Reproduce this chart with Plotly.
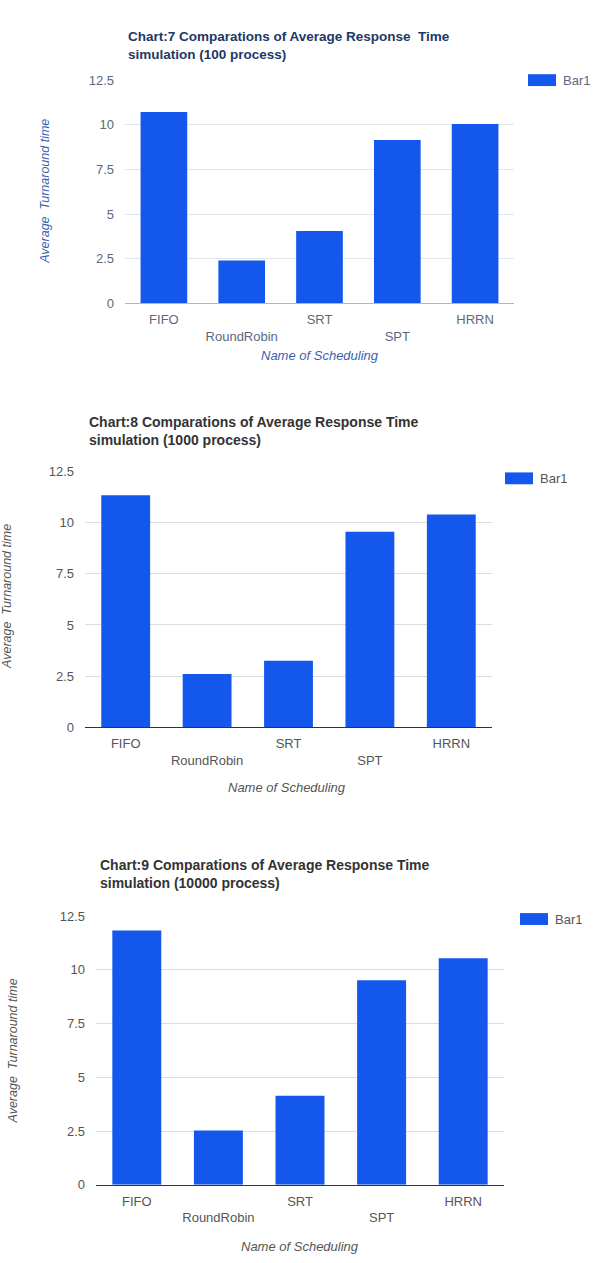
import plotly.graph_objects as go

W, H = 604, 1263

categories = ["FIFO", "RoundRobin", "SRT", "SPT", "HRRN"]
series_name = "Bar1"
chart7_values = [10.72, 2.4, 4.05, 9.15, 10.04]
chart8_values = [11.34, 2.61, 3.25, 9.55, 10.39]
chart9_values = [11.83, 2.53, 4.14, 9.51, 10.54]
y_ticks = [0, 2.5, 5, 7.5, 10, 12.5]
y_tick_labels = ["0", "2.5", "5", "7.5", "10", "12.5"]
titles = [
    "Chart:7 Comparations of Average Response  Time<br>simulation (100 process)",
    "Chart:8 Comparations of Average Response Time<br>simulation (1000 process)",
    "Chart:9 Comparations of Average Response Time<br>simulation (10000 process)",
]
x_title = "Name of Scheduling"
y_title = "Average  Turnaround time"

BAR = "#1457ec"


def px(x):
    return x / W


def py(y):
    return 1 - y / H


# layout geometry per chart (pixels): plot left, right, top(12.5), bottom(0)
charts = [
    dict(vals=chart7_values, l=125, r=514, t=74, b=300,
         title_xy=(126, 39), ytitle_xy=(45, 187), xtitle_xy=(320, 353),
         leg=(528, 74), title_col="#1d3866", tick_col="#5b6880",
         axis_col="#3b5fae", base_col="#a9b7cf", grid_col="#e1e6ee", tsize=13.5),
    dict(vals=chart8_values, l=85, r=492, t=470, b=729,
         title_xy=(87, 429), ytitle_xy=(7, 597), xtitle_xy=(287, 790),
         leg=(505, 477), title_col="#333333", tick_col="#555555",
         axis_col="#555555", base_col="#333333", grid_col="#dddddd", tsize=14),
    dict(vals=chart9_values, l=96, r=504, t=920, b=1192,
         title_xy=(98, 877), ytitle_xy=(13, 1057), xtitle_xy=(300, 1254),
         leg=(520, 923), title_col="#333333", tick_col="#555555",
         axis_col="#555555", base_col="#333333", grid_col="#dddddd", tsize=14),
]

fig = go.Figure()
annotations = []
shapes = []
ticktext = [c if i % 2 == 0 else "<br>" + c for i, c in enumerate(categories)]

for i, ch in enumerate(charts):
    n = "" if i == 0 else str(i + 1)
    fig.add_trace(go.Bar(
        x=categories, y=ch["vals"], name=series_name,
        marker=dict(color=BAR, line=dict(width=0)),
        xaxis="x" + n, yaxis="y" + n, showlegend=False,
    ))
    fig.layout["xaxis" + n] = dict(
        domain=[px(ch["l"]), px(ch["r"])], anchor="y" + n,
        tickmode="array", tickvals=categories, ticktext=ticktext,
        tickfont=dict(family="Arial, Liberation Sans", size=13, color=ch["tick_col"]),
        showline=True, linecolor=ch["base_col"], linewidth=1.2,
        showgrid=False, ticks="", fixedrange=True, ticklabelstandoff=4,
    )
    fig.layout["yaxis" + n] = dict(
        domain=[py(ch["b"]), py(ch["t"])], anchor="x" + n,
        range=[0, 12.5], tickmode="array", tickvals=y_ticks, ticktext=y_tick_labels,
        tickfont=dict(family="Arial, Liberation Sans", size=13, color=ch["tick_col"]),
        showgrid=True, gridcolor=ch["grid_col"], gridwidth=1,
        zeroline=False, showline=False, ticks="", ticklabelstandoff=10,
    )
    # chart title
    annotations.append(dict(
        x=px(ch["title_xy"][0]), y=py(ch["title_xy"][1]), xref="paper", yref="paper",
        text="<b>" + titles[i] + "</b>", showarrow=False, xanchor="left", yanchor="middle",
        align="left", font=dict(family="Arial, Liberation Sans", size=ch["tsize"], color=ch["title_col"]),
    ))
    # x axis title
    annotations.append(dict(
        x=px(ch["xtitle_xy"][0]), y=py(ch["xtitle_xy"][1]), xref="paper", yref="paper",
        text="<i>" + x_title + "</i>", showarrow=False, xanchor="center", yanchor="middle",
        font=dict(family="Arial, Liberation Sans", size=13, color=ch["axis_col"]),
    ))
    # y axis title
    annotations.append(dict(
        x=px(ch["ytitle_xy"][0]), y=py(ch["ytitle_xy"][1]), xref="paper", yref="paper",
        text="<i>" + y_title + "</i>", showarrow=False, xanchor="center", yanchor="middle",
        textangle=-90,
        font=dict(family="Arial, Liberation Sans", size=12.5, color=ch["axis_col"]),
    ))
    # legend
    lx, ly = ch["leg"]
    shapes.append(dict(type="rect", xref="paper", yref="paper",
                       x0=px(lx), x1=px(lx + 28), y0=py(ly + 6), y1=py(ly - 6),
                       fillcolor=BAR, line=dict(width=0)))
    annotations.append(dict(
        x=px(lx + 33), y=py(ly), xref="paper", yref="paper", text=series_name,
        showarrow=False, xanchor="left", yanchor="middle",
        font=dict(family="Arial, Liberation Sans", size=13, color=ch["tick_col"]),
    ))

fig.update_layout(
    width=W, height=H, margin=dict(l=0, r=0, t=0, b=0),
    paper_bgcolor="white", plot_bgcolor="white",
    bargap=0.4, showlegend=False,
    annotations=annotations, shapes=shapes,
)

fig.write_html("out.html", config={"displayModeBar": False})
